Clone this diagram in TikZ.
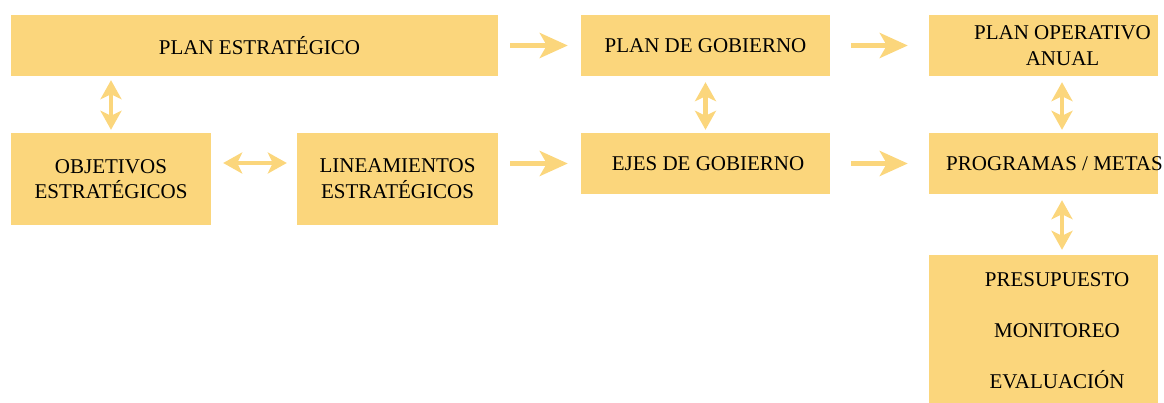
\documentclass[tikz,border=0pt]{standalone}
\usepackage{fontspec}
\setmainfont{Liberation Serif}
\usetikzlibrary{arrows.meta}
\definecolor{boxcol}{RGB}{251,214,124}

\begin{document}
\begin{tikzpicture}[x=1pt,y=-1pt,
        box/.style={fill=boxcol,inner sep=0pt,align=center,font=\fontsize{21}{26}\selectfont},
        flow/.style={draw=boxcol,line width=5pt,-{Stealth[length=28pt,width=25pt,inset=7pt]}},
        both/.style={draw=boxcol,line width=4.5pt,{Stealth[length=19pt,width=21pt,inset=5pt]}-{Stealth[length=19pt,width=21pt,inset=5pt]}}]
        \useasboundingbox (0,0) rectangle (1164,403);
        % Top row
        \node[box,minimum width=487pt,minimum height=61pt] (pe) at (254.5,45.5) {\hspace*{10pt}PLAN ESTRATÉGICO};
        \node[box,minimum width=249pt,minimum height=61pt] (pg) at (705.5,45.5) {PLAN DE GOBIERNO};
        \node[box,minimum width=229pt,minimum height=61pt,
              label={[align=center,font=\fontsize{21}{26}\selectfont,xshift=19pt]center:PLAN OPERATIVO\\ANUAL}] (poa) at (1043.5,45.5) {};
        % Middle row
        \node[box,minimum width=200pt,minimum height=92pt] (obj) at (111,179) {\raisebox{-4pt}{\shortstack{OBJETIVOS\\[3pt]ESTRATÉGICOS}}};
        \node[box,minimum width=201pt,minimum height=92pt] (lin) at (397.5,179) {LINEAMIENTOS\\ESTRATÉGICOS};
        \node[box,minimum width=249pt,minimum height=61pt] (ejes) at (705.5,163.5) {\hspace*{5pt}EJES DE GOBIERNO};
        \node[box,minimum width=229pt,minimum height=61pt,
              label={[font=\fontsize{21}{26}\selectfont,xshift=11pt]center:PROGRAMAS / METAS}] (prog) at (1043.5,163.5) {};
        % Bottom box
        \node[box,minimum width=229pt,minimum height=148pt,
              label={[align=center,font=\fontsize{21}{26}\selectfont,xshift=13.5pt,yshift=-2pt]center:PRESUPUESTO\\[25pt]MONITOREO\\[25pt]EVALUACIÓN}] (pres) at (1043.5,329) {};
        % Arrows
        \draw[flow,shorten <=12pt,shorten >=13pt] (pe.east) -- (pg.west);
        \draw[flow,shorten <=21pt,shorten >=21pt] (pg.east) -- (poa.west);
        \draw[flow,shorten <=12pt,shorten >=13pt] (lin.east |- ejes.west) -- (ejes.west);
        \draw[flow,shorten <=21pt,shorten >=21pt,yshift=-1.5pt] (ejes.east) -- (prog.west);
        % Double arrows
        \draw[both,shorten <=4pt,shorten >=3pt] (obj.north |- pe.south) -- (obj.north);
        \draw[both,shorten <=6pt,shorten >=3pt] (pg.south) -- (ejes.north);
        \draw[both,shorten <=6pt,shorten >=3pt] ([xshift=18.5pt]poa.south) -- ([xshift=18.5pt]prog.north);
        \draw[both,shorten <=6pt,shorten >=5pt] ([xshift=18.5pt]prog.south) -- ([xshift=18.5pt]pres.north);
        \draw[both,shorten <=12pt,shorten >=10pt] ([yshift=16pt]obj.east) -- ([yshift=16pt]lin.west);
    \end{tikzpicture}
\end{document}
